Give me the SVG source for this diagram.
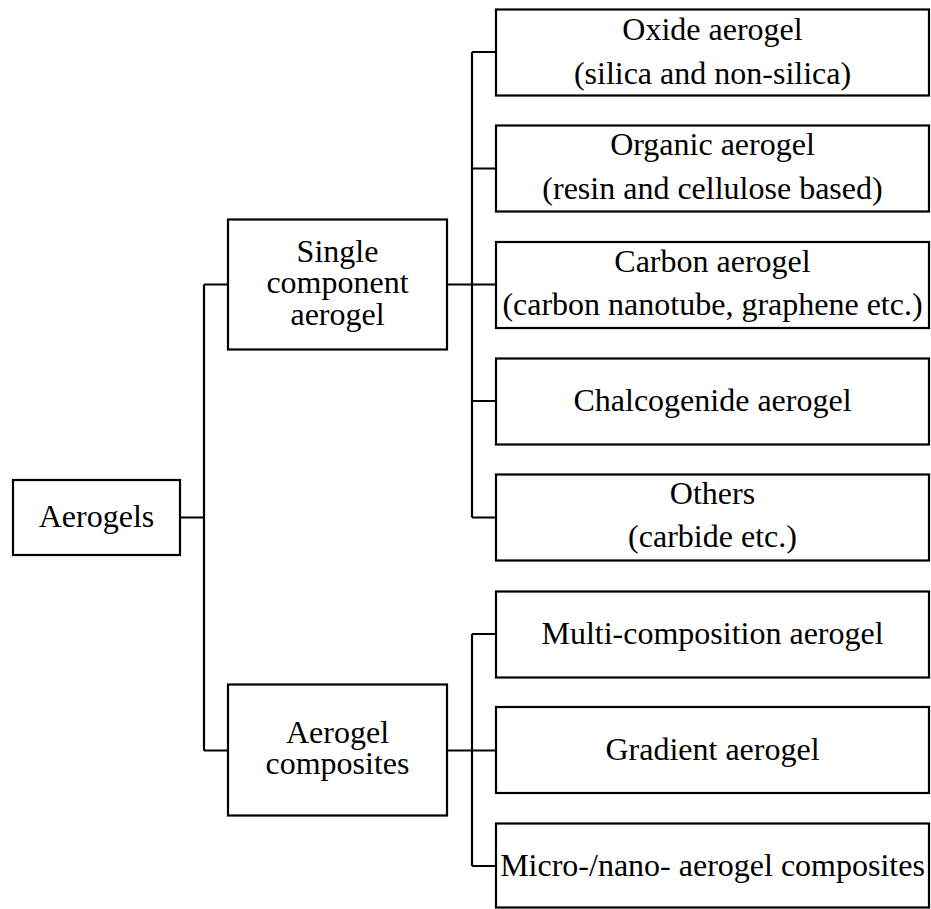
<svg xmlns="http://www.w3.org/2000/svg" width="931" height="909" viewBox="0 0 931 909">
<style>
rect{fill:#fff;stroke:#000;stroke-width:2.2}
text{font-family:"Liberation Serif","Times New Roman",serif;font-size:32px;fill:#000;text-anchor:middle}
.c{fill:none;stroke:#000;stroke-width:2.2}
</style>
<rect x="0" y="0" width="931" height="909" style="stroke:none"/>
<g id="connectors">
<path class="c" d="M180,517.5H204M204,284.5V750.5M204,284.5H228M204,750.5H228"/>
<path class="c" d="M447,284.5H472M472,52V517.5M472,52H496M472,168.5H496M472,284.5H496M472,401H496M472,517.5H496"/>
<path class="c" d="M447,750.5H472M472,634V866M472,634H496M472,750.5H496M472,866H496"/>
</g>
<g id="aerogels"><rect x="13" y="480" width="167" height="75"/><text x="96.5" y="527">Aerogels</text></g>
<g id="single"><rect x="228" y="219.5" width="219" height="130"/><text x="337.5" y="262">Single</text><text x="337.5" y="293">component</text><text x="337.5" y="325">aerogel</text></g>
<g id="composites"><rect x="228" y="684.5" width="219" height="131"/><text x="337.5" y="743">Aerogel</text><text x="337.5" y="774">composites</text></g>
<g id="oxide"><rect x="496" y="9.5" width="433" height="86"/><text x="712.5" y="40">Oxide aerogel</text><text x="712.5" y="83.5">(silica and non-silica)</text></g>
<g id="organic"><rect x="496" y="125.5" width="433" height="86"/><text x="712.5" y="154.5">Organic aerogel</text><text x="712.5" y="199">(resin and cellulose based)</text></g>
<g id="carbon"><rect x="496" y="242" width="433" height="86"/><text x="712.5" y="272">Carbon aerogel</text><text x="712.5" y="315">(carbon nanotube, graphene etc.)</text></g>
<g id="chalcogenide"><rect x="496" y="358.5" width="433" height="86"/><text x="712.5" y="411">Chalcogenide aerogel</text></g>
<g id="others"><rect x="496" y="474.5" width="433" height="86"/><text x="712.5" y="503.5">Others</text><text x="712.5" y="547">(carbide etc.)</text></g>
<g id="multi"><rect x="496" y="591.5" width="433" height="86"/><text x="712.5" y="644">Multi-composition aerogel</text></g>
<g id="gradient"><rect x="496" y="707" width="433" height="86"/><text x="712.5" y="760">Gradient aerogel</text></g>
<g id="micro"><rect x="496" y="823.5" width="433" height="84"/><text x="712.5" y="876">Micro-/nano- aerogel composites</text></g>
</svg>
